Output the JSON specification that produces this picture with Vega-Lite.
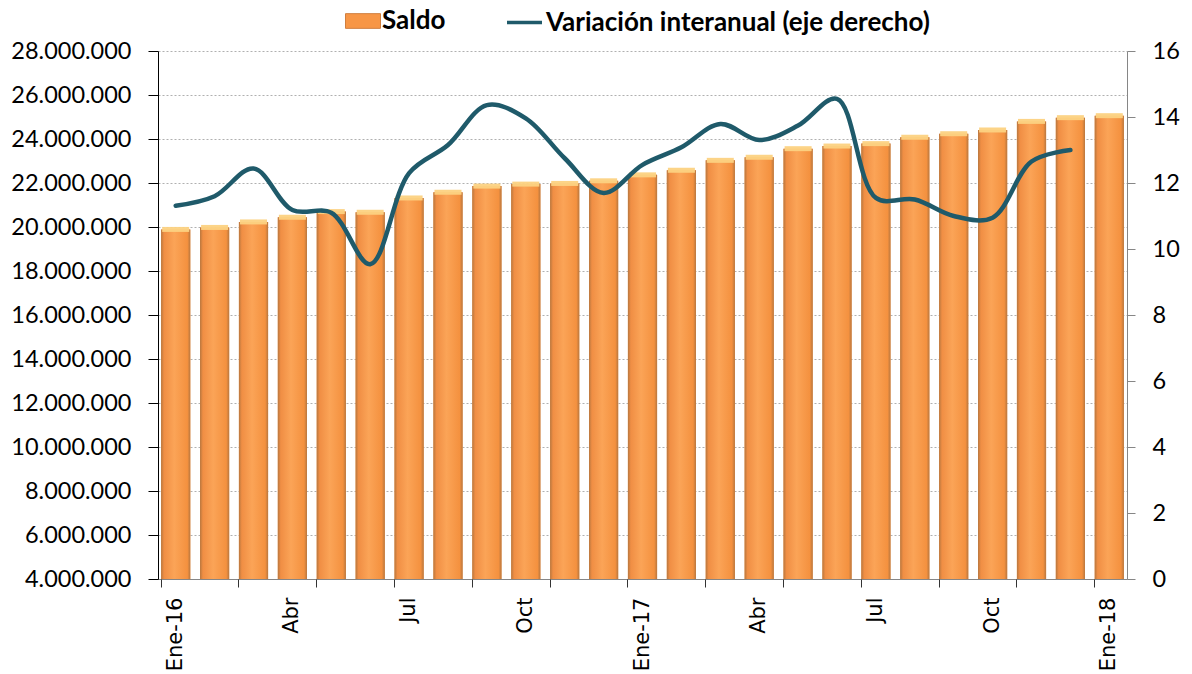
{
  "$schema": "https://vega.github.io/schema/vega-lite/v6.json",
  "width": 969,
  "height": 528,
  "autosize": {"type": "none"},
  "padding": {"left": 158, "top": 51, "right": 65, "bottom": 95},
  "background": "white",
  "config": {
    "view": {"stroke": null},
    "locale": {"number": {"decimal": ",", "thousands": ".", "grouping": [3], "currency": ["", ""]}}
  },
  "data": {
    "values": [
      {"mes": "Ene-16", "saldo": 19890000, "var": 11.31},
      {"mes": "Feb-16", "saldo": 19980000, "var": 11.6},
      {"mes": "Mar-16", "saldo": 20230000, "var": 12.44},
      {"mes": "Abr-16", "saldo": 20440000, "var": 11.18},
      {"mes": "May-16", "saldo": 20700000, "var": 11.1},
      {"mes": "Jun-16", "saldo": 20670000, "var": 9.54},
      {"mes": "Jul-16", "saldo": 21320000, "var": 12.3},
      {"mes": "Ago-16", "saldo": 21580000, "var": 13.15},
      {"mes": "Sep-16", "saldo": 21860000, "var": 14.36},
      {"mes": "Oct-16", "saldo": 21950000, "var": 13.96},
      {"mes": "Nov-16", "saldo": 21980000, "var": 12.75},
      {"mes": "Dic-16", "saldo": 22100000, "var": 11.7},
      {"mes": "Ene-17", "saldo": 22370000, "var": 12.55},
      {"mes": "Feb-17", "saldo": 22580000, "var": 13.08},
      {"mes": "Mar-17", "saldo": 23030000, "var": 13.79},
      {"mes": "Abr-17", "saldo": 23170000, "var": 13.3},
      {"mes": "May-17", "saldo": 23560000, "var": 13.74},
      {"mes": "Jun-17", "saldo": 23680000, "var": 14.55},
      {"mes": "Jul-17", "saldo": 23790000, "var": 11.55},
      {"mes": "Ago-17", "saldo": 24080000, "var": 11.5},
      {"mes": "Sep-17", "saldo": 24240000, "var": 11.0},
      {"mes": "Oct-17", "saldo": 24410000, "var": 10.95},
      {"mes": "Nov-17", "saldo": 24800000, "var": 12.65},
      {"mes": "Dic-17", "saldo": 24970000, "var": 13.0},
      {"mes": "Ene-18", "saldo": 25060000, "var": null}
    ]
  },
  "layer": [
    {
      "mark": {"type": "bar", "clip": true},
      "encoding": {
        "x": {
          "field": "mes", "type": "nominal", "sort": null, "title": null,
          "scale": {"paddingInner": 0.25, "paddingOuter": 0.08},
          "axis": {
            "orient": "bottom",
            "values": ["Ene-16", "Abr-16", "Jul-16", "Oct-16", "Ene-17", "Abr-17", "Jul-17", "Oct-17", "Ene-18"],
            "labelExpr": "substring(datum.value,0,3) == 'Ene' ? datum.value : substring(datum.value,0,3)",
            "labelAngle": -90,
            "labelFont": "DejaVu Sans",
            "labelFontSize": 21,
            "labelColor": "#000000",
            "labelPadding": 18,
            "ticks": false,
            "tickSize": 0,
            "domain": true,
            "domainColor": "#868686",
            "grid": false
          }
        },
        "y": {
          "field": "saldo", "type": "quantitative", "title": null,
          "scale": {"domain": [4000000, 28000000], "zero": false, "nice": false},
          "axis": {
            "orient": "left",
            "values": [4000000, 6000000, 8000000, 10000000, 12000000, 14000000, 16000000, 18000000, 20000000, 22000000, 24000000, 26000000, 28000000],
            "format": ",d",
            "labelFont": "Lato",
            "labelFontSize": 23.5,
            "labelColor": "#000000",
            "labelPadding": 17,
            "tickSize": 10,
            "tickColor": "#000000",
            "domainColor": "#000000",
            "grid": true,
            "gridColor": "#B0B0B0",
            "gridDash": [2, 2],
            "gridWidth": 1
          }
        },
        "fill": {
          "datum": "Saldo",
          "type": "nominal",
          "scale": {"range": ["#F79646"]},
          "legend": {
            "title": null,
            "orient": "none",
            "legendX": 187,
            "legendY": -48,
            "symbolType": "M-1,-0.42H1V0.42H-1Z",
            "symbolSize": 1225,
            "symbolStrokeColor": "#D07E3E",
            "symbolStrokeWidth": 1,
            "labelFont": "Lato",
            "labelFontWeight": "bold",
            "labelFontSize": 26,
            "labelLimit": 0,
            "labelColor": "#000000",
            "labelOffset": 1
          }
        }
      }
    },
    {
      "mark": {
        "type": "bar",
        "clip": true,
        "fill": {
          "gradient": "linear", "x1": 0, "x2": 1, "y1": 0, "y2": 0,
          "stops": [
            {"offset": 0, "color": "#B8773F"},
            {"offset": 0.1, "color": "#F08E44"},
            {"offset": 0.45, "color": "#FBA457"},
            {"offset": 0.9, "color": "#F4913F"},
            {"offset": 1, "color": "#B8773F"}
          ]
        }
      },
      "encoding": {
        "x": {"field": "mes", "type": "nominal", "sort": null, "axis": null},
        "y": {
          "field": "saldo", "type": "quantitative",
          "scale": {"domain": [4000000, 28000000], "zero": false, "nice": false},
          "axis": null
        }
      }
    },
    {
      "mark": {"type": "tick", "color": "#FCD282", "thickness": 5, "size": 27, "opacity": 0.95, "clip": true},
      "encoding": {
        "x": {"field": "mes", "type": "nominal", "sort": null, "axis": null},
        "y": {
          "field": "saldo", "type": "quantitative",
          "scale": {"domain": [4000000, 28000000], "zero": false, "nice": false},
          "axis": null
        }
      }
    },
    {
      "mark": {"type": "line", "interpolate": "catmull-rom", "strokeWidth": 4.5, "strokeCap": "round"},
      "encoding": {
        "x": {
          "field": "mes", "type": "nominal", "sort": null, "title": null,
          "axis": {
            "orient": "bottom",
            "values": ["Ene-16", "Mar-16", "May-16", "Jul-16", "Sep-16", "Nov-16", "Ene-17", "Mar-17", "May-17", "Jul-17", "Sep-17", "Nov-17", "Ene-18"],
            "bandPosition": 0,
            "labels": false,
            "domain": false,
            "grid": false,
            "ticks": true,
            "tickSize": 8,
            "tickColor": "#333333"
          }
        },
        "y": {
          "field": "var", "type": "quantitative", "title": null,
          "scale": {"domain": [0, 16], "nice": false},
          "axis": {
            "orient": "right",
            "values": [0, 2, 4, 6, 8, 10, 12, 14, 16],
            "labelFont": "Lato",
            "labelFontSize": 23.5,
            "labelColor": "#000000",
            "labelPadding": 17,
            "tickSize": 8,
            "tickColor": "#868686",
            "domainColor": "#868686",
            "grid": false
          }
        },
        "stroke": {
          "datum": "Variación interanual (eje derecho)",
          "type": "nominal",
          "scale": {"range": ["#1F5A6A"]},
          "legend": {
            "title": null,
            "orient": "none",
            "legendX": 347,
            "legendY": -48,
            "symbolType": "stroke",
            "symbolSize": 1225,
            "symbolStrokeWidth": 3.5,
            "labelFont": "Lato",
            "labelFontWeight": "bold",
            "labelFontSize": 26,
            "labelLimit": 0,
            "labelColor": "#000000",
            "labelOffset": 2
          }
        }
      }
    }
  ],
  "resolve": {"scale": {"y": "independent"}, "axis": {"x": "independent"}}
}
